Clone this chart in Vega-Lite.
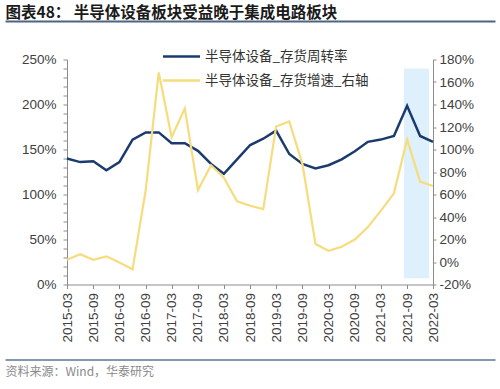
{
  "$schema": "https://vega.github.io/schema/vega-lite/v6.json",
  "padding": {"left": 5, "top": 5, "right": 5, "bottom": 3},
  "config": {
    "view": {"stroke": null},
    "font": "Liberation Sans",
    "axis": {"labelFont": "Liberation Sans", "labelFontSize": 13.5, "labelColor": "#404040", "domainColor": "#8c8c8c", "tickColor": "#8c8c8c", "grid": false, "title": null, "labelOverlap": false, "labelFlush": false},
    "legend": {"orient": "none", "legendX": 105.5, "legendY": -12, "symbolType": "M-2.5,0H2.5", "symbolSize": 219, "symbolStrokeWidth": 2.5, "labelFont": "Noto Sans CJK SC", "labelFontSize": 13.5, "labelColor": "#333333", "rowPadding": 8, "labelOffset": 14.5, "labelLimit": 300}
  },
  "spacing": 32.5,
  "center": true,
  "bounds": "flush",
  "resolve": {"scale": {"color": "independent", "x": "independent"}, "legend": {"color": "independent"}, "axis": {"x": "independent"}},
  "vconcat": [
    {
      "width": 490,
      "height": 1,
      "data": {"values": [{}]},
      "mark": {"type": "text"},
      "encoding": {
        "x": {"datum": 0, "type": "quantitative", "scale": {"domain": [0, 1]}, "axis": {"orient": "top", "offset": 5, "domain": true, "domainColor": "#4D6482", "domainWidth": 1.8, "ticks": false, "labels": false, "grid": false, "title": "图表48： 半导体设备板块受益晚于集成电路板块", "titleAnchor": "start", "titleFont": "Noto Sans CJK SC", "titleFontSize": 15.5, "titleFontWeight": "bold", "titleColor": "#1a1a1a", "titlePadding": 1}},
        "text": {"value": ""}
      }
    },
    {
      "width": 366,
      "height": 225,
      "data": {
        "values": [
          {"q": "2015-03", "turnover": 140, "growth": 2},
          {"q": "2015-06", "turnover": 136, "growth": 7},
          {"q": "2015-09", "turnover": 137, "growth": 2},
          {"q": "2015-12", "turnover": 127, "growth": 5},
          {"q": "2016-03", "turnover": 136, "growth": -0.5},
          {"q": "2016-06", "turnover": 161, "growth": -6.5},
          {"q": "2016-09", "turnover": 169, "growth": 64},
          {"q": "2016-12", "turnover": 169, "growth": 168.5},
          {"q": "2017-03", "turnover": 157, "growth": 111},
          {"q": "2017-06", "turnover": 157, "growth": 136.5},
          {"q": "2017-09", "turnover": 148.5, "growth": 64},
          {"q": "2017-12", "turnover": 134, "growth": 86},
          {"q": "2018-03", "turnover": 123, "growth": 75},
          {"q": "2018-06", "turnover": 139, "growth": 54},
          {"q": "2018-09", "turnover": 155, "growth": 50},
          {"q": "2018-12", "turnover": 162, "growth": 47},
          {"q": "2019-03", "turnover": 171, "growth": 120.5},
          {"q": "2019-06", "turnover": 145, "growth": 125},
          {"q": "2019-09", "turnover": 134, "growth": 87},
          {"q": "2019-12", "turnover": 129, "growth": 16},
          {"q": "2020-03", "turnover": 132.5, "growth": 10},
          {"q": "2020-06", "turnover": 139, "growth": 13.5},
          {"q": "2020-09", "turnover": 148, "growth": 20},
          {"q": "2020-12", "turnover": 158.5, "growth": 31},
          {"q": "2021-03", "turnover": 161, "growth": 45.5},
          {"q": "2021-06", "turnover": 165, "growth": 61},
          {"q": "2021-09", "turnover": 198.5, "growth": 109},
          {"q": "2021-12", "turnover": 165, "growth": 71.5},
          {"q": "2022-03", "turnover": 158.5, "growth": 67.5}
        ],
        "format": {"parse": {"q": "utc:'%Y-%m'"}}
      },
      "resolve": {"scale": {"y": "independent"}},
      "layer": [
        {
          "layer": [
            {
              "data": {"values": [{"start": "2021-08-10", "end": "2022-02-01", "low": 7, "high": 240}], "format": {"parse": {"start": "utc:'%Y-%m-%d'", "end": "utc:'%Y-%m-%d'"}}},
              "mark": {"type": "rect", "color": "#DDF0FB"},
              "encoding": {
                "x": {"field": "start", "type": "temporal", "scale": {"type": "utc", "domain": [{"year": 2015, "month": 3, "date": 1, "utc": true}, {"year": 2022, "month": 3, "date": 1, "utc": true}], "nice": false, "padding": 0},
                  "axis": {"values": [{"year": 2015, "month": 3, "date": 1, "utc": true}, {"year": 2015, "month": 9, "date": 1, "utc": true}, {"year": 2016, "month": 3, "date": 1, "utc": true}, {"year": 2016, "month": 9, "date": 1, "utc": true}, {"year": 2017, "month": 3, "date": 1, "utc": true}, {"year": 2017, "month": 9, "date": 1, "utc": true}, {"year": 2018, "month": 3, "date": 1, "utc": true}, {"year": 2018, "month": 9, "date": 1, "utc": true}, {"year": 2019, "month": 3, "date": 1, "utc": true}, {"year": 2019, "month": 9, "date": 1, "utc": true}, {"year": 2020, "month": 3, "date": 1, "utc": true}, {"year": 2020, "month": 9, "date": 1, "utc": true}, {"year": 2021, "month": 3, "date": 1, "utc": true}, {"year": 2021, "month": 9, "date": 1, "utc": true}, {"year": 2022, "month": 3, "date": 1, "utc": true}], "labelExpr": "utcFormat(datum.value, '%Y-%m')", "labelAngle": -90, "labelAlign": "right", "labelBaseline": "middle", "tickSize": 4, "labelPadding": 4}},
                "x2": {"field": "end"},
                "y": {"field": "low", "type": "quantitative", "scale": {"domain": [0, 250], "nice": false},
                  "axis": {"orient": "left", "values": [0, 10, 20, 30, 40, 50, 60, 70, 80, 90, 100, 110, 120, 130, 140, 150, 160, 170, 180, 190, 200, 210, 220, 230, 240, 250], "labelExpr": "datum.value % 50 === 0 ? datum.value + '%' : ''", "tickSize": 4, "labelPadding": 7}},
                "y2": {"field": "high"}
              }
            },
            {
              "mark": {"type": "line", "strokeWidth": 2.5},
              "encoding": {
                "x": {"field": "q", "type": "temporal", "scale": {"type": "utc", "domain": [{"year": 2015, "month": 3, "date": 1, "utc": true}, {"year": 2022, "month": 3, "date": 1, "utc": true}], "nice": false, "padding": 0},
                  "axis": {"values": [{"year": 2015, "month": 3, "date": 1, "utc": true}, {"year": 2015, "month": 9, "date": 1, "utc": true}, {"year": 2016, "month": 3, "date": 1, "utc": true}, {"year": 2016, "month": 9, "date": 1, "utc": true}, {"year": 2017, "month": 3, "date": 1, "utc": true}, {"year": 2017, "month": 9, "date": 1, "utc": true}, {"year": 2018, "month": 3, "date": 1, "utc": true}, {"year": 2018, "month": 9, "date": 1, "utc": true}, {"year": 2019, "month": 3, "date": 1, "utc": true}, {"year": 2019, "month": 9, "date": 1, "utc": true}, {"year": 2020, "month": 3, "date": 1, "utc": true}, {"year": 2020, "month": 9, "date": 1, "utc": true}, {"year": 2021, "month": 3, "date": 1, "utc": true}, {"year": 2021, "month": 9, "date": 1, "utc": true}, {"year": 2022, "month": 3, "date": 1, "utc": true}], "labelExpr": "utcFormat(datum.value, '%Y-%m')", "labelAngle": -90, "labelAlign": "right", "labelBaseline": "middle", "tickSize": 4, "labelPadding": 4}},
                "y": {"field": "turnover", "type": "quantitative", "scale": {"domain": [0, 250], "nice": false},
                  "axis": {"orient": "left", "values": [0, 10, 20, 30, 40, 50, 60, 70, 80, 90, 100, 110, 120, 130, 140, 150, 160, 170, 180, 190, 200, 210, 220, 230, 240, 250], "labelExpr": "datum.value % 50 === 0 ? datum.value + '%' : ''", "tickSize": 4, "labelPadding": 7}},
                "color": {"datum": "半导体设备_存货周转率", "type": "nominal", "scale": {"domain": ["半导体设备_存货周转率", "半导体设备_存货增速_右轴"], "range": ["#1B3B6F", "#F6DC7C"]}, "legend": {"title": null}}
              }
            }
          ]
        },
        {
          "mark": {"type": "line", "strokeWidth": 2.2},
          "encoding": {
            "x": {"field": "q", "type": "temporal", "scale": {"type": "utc", "domain": [{"year": 2015, "month": 3, "date": 1, "utc": true}, {"year": 2022, "month": 3, "date": 1, "utc": true}], "nice": false, "padding": 0},
              "axis": {"values": [{"year": 2015, "month": 3, "date": 1, "utc": true}, {"year": 2015, "month": 9, "date": 1, "utc": true}, {"year": 2016, "month": 3, "date": 1, "utc": true}, {"year": 2016, "month": 9, "date": 1, "utc": true}, {"year": 2017, "month": 3, "date": 1, "utc": true}, {"year": 2017, "month": 9, "date": 1, "utc": true}, {"year": 2018, "month": 3, "date": 1, "utc": true}, {"year": 2018, "month": 9, "date": 1, "utc": true}, {"year": 2019, "month": 3, "date": 1, "utc": true}, {"year": 2019, "month": 9, "date": 1, "utc": true}, {"year": 2020, "month": 3, "date": 1, "utc": true}, {"year": 2020, "month": 9, "date": 1, "utc": true}, {"year": 2021, "month": 3, "date": 1, "utc": true}, {"year": 2021, "month": 9, "date": 1, "utc": true}, {"year": 2022, "month": 3, "date": 1, "utc": true}], "labelExpr": "utcFormat(datum.value, '%Y-%m')", "labelAngle": -90, "labelAlign": "right", "labelBaseline": "middle", "tickSize": 4, "labelPadding": 4}},
            "y": {"field": "growth", "type": "quantitative", "scale": {"domain": [-20, 180], "nice": false},
              "axis": {"orient": "right", "values": [-20, 0, 20, 40, 60, 80, 100, 120, 140, 160, 180], "labelExpr": "datum.value + '%'", "tickSize": 3, "labelPadding": 3}},
            "color": {"datum": "半导体设备_存货增速_右轴", "type": "nominal", "scale": {"domain": ["半导体设备_存货周转率", "半导体设备_存货增速_右轴"], "range": ["#1B3B6F", "#F6DC7C"]}, "legend": {"title": null}}
          }
        }
      ]
    },
    {
      "width": 490,
      "height": 1,
      "data": {"values": [{}]},
      "mark": {"type": "text"},
      "encoding": {
        "x": {"datum": 0, "type": "quantitative", "scale": {"domain": [0, 1]}, "axis": {"orient": "bottom", "offset": 41.5, "domain": true, "domainColor": "#5A7595", "domainWidth": 1.5, "ticks": false, "labels": false, "grid": false, "title": "资料来源：Wind，华泰研究", "titleAnchor": "start", "titleFont": "Noto Sans CJK SC", "titleFontSize": 12, "titleFontWeight": "normal", "titleColor": "#8a8a8a", "titlePadding": 7}},
        "text": {"value": ""}
      }
    }
  ]
}
